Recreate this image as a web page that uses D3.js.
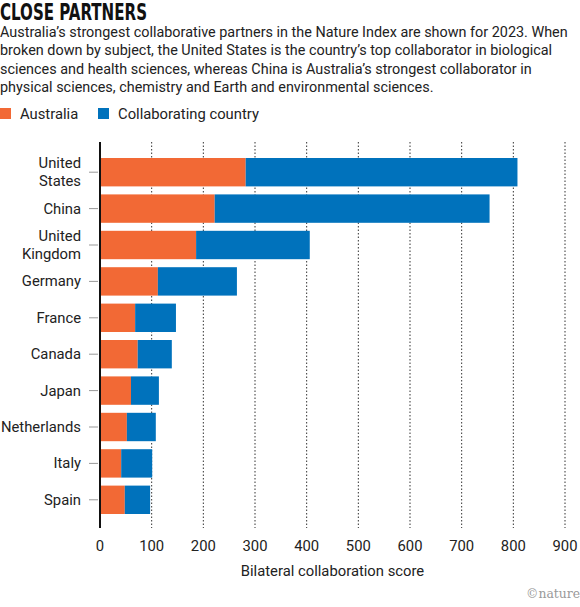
<!DOCTYPE html>
<html>
<head>
<meta charset="utf-8">
<script src="https://cdn.jsdelivr.net/npm/d3@7"></script>
<style>
  body { margin: 0; background: #fff; }
  text { font-family: Roboto, sans-serif; fill: #222; }
</style>
</head>
<body>
<svg id="chart"></svg>
<script>
const countries = ["United States", "China", "United Kingdom", "Germany", "France",
  "Canada", "Japan", "Netherlands", "Italy", "Spain"];
const australia = [282, 222, 186, 112, 68, 73, 60, 52, 41, 48];
const partner = [526, 532, 220, 153, 79, 66, 54, 56, 60, 49];
const xTicks = [0, 100, 200, 300, 400, 500, 600, 700, 800, 900];
const subtitle = [
  "Australia\u2019s strongest collaborative partners in the Nature Index are shown for 2023. When",
  "broken down by subject, the United States is the country\u2019s top collaborator in biological",
  "sciences and health sciences, whereas China is Australia\u2019s strongest collaborator in",
  "physical sciences, chemistry and Earth and environmental sciences."
];

const width = 580, height = 607;
const orange = "#f26935", blue = "#0072bc";
const margin = { top: 142, left: 100, right: 15, bottom: 79 };
const fs = "14.8px";

const svg = d3.select("#chart").attr("width", width).attr("height", height);

svg.append("text").attr("x", 0).attr("y", 20)
  .style("font-family", "'DejaVu Sans Condensed', sans-serif")
  .style("font-weight", "bold").style("font-size", "23px").style("fill", "#111")
  .attr("textLength", 147).attr("lengthAdjust", "spacingAndGlyphs")
  .text("CLOSE PARTNERS");

svg.append("g").selectAll("text").data(subtitle).join("text")
  .attr("x", 0).attr("y", (d, i) => 37 + i * 18.3)
  .style("font-size", "14.4px")
  .text(d => d);

// legend
const legend = [["Australia", orange, 0], ["Collaborating country", blue, 98]];
const lg = svg.append("g").selectAll("g").data(legend).join("g")
  .attr("transform", d => `translate(${d[2]},119)`);
lg.append("rect").attr("y", -11).attr("width", 11).attr("height", 11).attr("fill", d => d[1]);
lg.append("text").attr("x", 20).attr("y", 0).style("font-size", fs).text(d => d[0]);

const x = d3.scaleLinear().domain([0, 900]).range([margin.left, width - margin.right]);
const y = d3.scaleBand().domain(countries)
  .range([154, 518]).paddingInner(0.22).paddingOuter(0.11);

// grid
svg.append("g").selectAll("line").data(xTicks.slice(1)).join("line")
  .attr("x1", d => x(d)).attr("x2", d => x(d))
  .attr("y1", margin.top).attr("y2", height - margin.bottom)
  .attr("stroke", "#333").attr("stroke-width", 1).attr("stroke-dasharray", "1.5,2");

const stacked = countries.map((c, i) => ({ c, a: australia[i], p: partner[i] }));

svg.append("g").selectAll("rect").data(stacked).join("rect")
  .attr("x", x(0)).attr("y", d => y(d.c))
  .attr("width", d => x(d.a) - x(0)).attr("height", y.bandwidth())
  .attr("fill", orange);
svg.append("g").selectAll("rect").data(stacked).join("rect")
  .attr("x", d => x(d.a)).attr("y", d => y(d.c))
  .attr("width", d => x(d.a + d.p) - x(d.a)).attr("height", y.bandwidth())
  .attr("fill", blue);

// y axis
svg.append("line").attr("x1", x(0)).attr("x2", x(0))
  .attr("y1", margin.top).attr("y2", height - margin.bottom)
  .attr("stroke", "#111").attr("stroke-width", 2);

const yl = svg.append("g").selectAll("g").data(countries).join("g")
  .attr("transform", d => `translate(0,${y(d) + y.bandwidth() / 2})`);
yl.append("line").attr("x1", 89).attr("x2", 98).attr("stroke", "#999");
yl.append("text").attr("x", 81).attr("text-anchor", "end")
  .style("font-size", fs)
  .each(function (d) {
    const parts = d === "United States" ? ["United", "States"]
      : d === "United Kingdom" ? ["United", "Kingdom"] : [d];
    const t = d3.select(this);
    parts.forEach((p, i) => {
      t.append("tspan").attr("x", 81)
        .attr("y", (parts.length === 1 ? 5 : -4) + i * 18.3).text(p);
    });
  });

// x axis labels
svg.append("g").selectAll("text").data(xTicks).join("text")
  .attr("x", d => x(d)).attr("y", 551).attr("text-anchor", "middle")
  .style("font-size", fs).text(d => d);

svg.append("text").attr("x", (x(0) + x(900)) / 2).attr("y", 576)
  .attr("text-anchor", "middle").style("font-size", fs)
  .text("Bilateral collaboration score");

svg.append("text").attr("x", width).attr("y", 598).attr("text-anchor", "end")
  .style("font-family", "'DejaVu Serif', serif").style("font-size", "12px")
  .style("fill", "#999").attr("textLength", 54).attr("lengthAdjust", "spacingAndGlyphs")
  .text("\u00a9nature");
</script>
</body>
</html>
